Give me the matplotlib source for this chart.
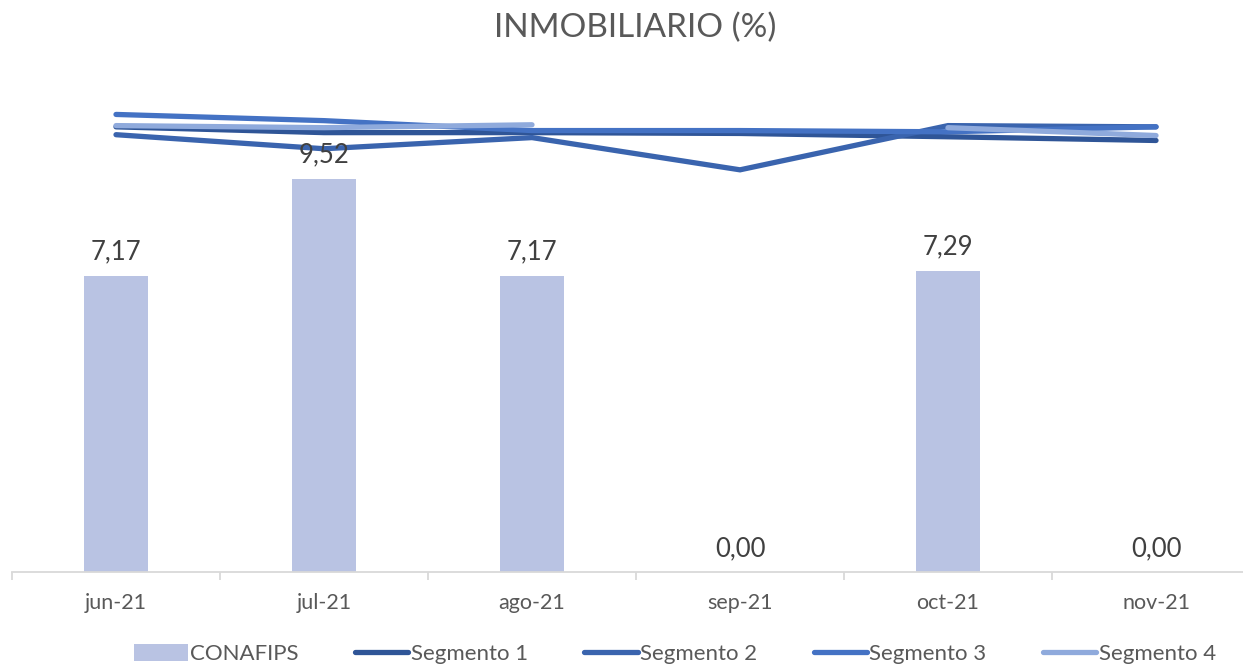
import numpy as np
import matplotlib.pyplot as plt

# Datos
meses = ['jun-21', 'jul-21', 'ago-21', 'sep-21', 'oct-21', 'nov-21']
conafips = [7.17, 9.52, 7.17, 0.00, 7.29, 0.00]
segmento1 = [10.77, 10.63, 10.63, 10.61, 10.53, 10.44]
segmento2 = [10.58, 10.24, 10.51, 9.73, 10.80, 10.77]
segmento3 = [11.07, 10.92, 10.68, 10.68, 10.65, 10.77]
segmento4 = [10.80, 10.75, 10.82, np.nan, 10.75, 10.56]

gris = '#595959'
plt.rcParams['font.family'] = ['Lato', 'DejaVu Sans']

fig = plt.figure(figsize=(12.43, 6.66), dpi=100)
ax = fig.add_axes([12 / 1243, 94 / 666, 1248 / 1243, 496 / 666])

x = np.arange(len(meses))
barras = ax.bar(x, conafips, width=0.31, color='#B9C3E3', label='CONAFIPS', zorder=1)

series = [(segmento1, '#2F5597', 'Segmento 1'),
          (segmento2, '#3A64AE', 'Segmento 2'),
          (segmento3, '#4472C4', 'Segmento 3'),
          (segmento4, '#8FAADC', 'Segmento 4')]
for valores, color, nombre in series:
    ax.plot(x, valores, color=color, lw=3.8, label=nombre,
            solid_capstyle='round', solid_joinstyle='miter', zorder=2)

# Etiquetas de valor sobre las barras
for barra, valor in zip(barras, conafips):
    ax.annotate('{:.2f}'.format(valor).replace('.', ','),
                (barra.get_x() + barra.get_width() / 2, barra.get_height()),
                xytext=(0, 8), textcoords='offset points',
                ha='center', va='bottom', fontsize=18.5, color='#404040')

ax.set_xlim(-0.5, len(meses) - 0.5)
ax.set_ylim(0, 12)
ax.set_yticks([])
for lado in ['top', 'right', 'left']:
    ax.spines[lado].set_visible(False)
ax.spines['bottom'].set_color('#D9D9D9')
ax.spines['bottom'].set_linewidth(1.3)

ax.set_xticks(x)
ax.set_xticklabels(meses, fontsize=15.5, color=gris)
ax.tick_params(axis='x', which='major', length=0, pad=15)
ax.set_xticks(np.arange(-0.5, len(meses), 1), minor=True)
ax.tick_params(axis='x', which='minor', length=6, color='#D9D9D9', width=1.3)

fig.text(0.511, 0.958, 'INMOBILIARIO (%)', ha='center', va='center',
         fontsize=24, color=gris)

# Leyenda con CONAFIPS primero
handles, labels = ax.get_legend_handles_labels()
orden = [labels.index('CONAFIPS')] + [i for i, l in enumerate(labels) if l != 'CONAFIPS']
fig.legend([handles[i] for i in orden], [labels[i] for i in orden],
           loc='center', bbox_to_anchor=(0.543, 0.018), ncol=5, frameon=False,
           fontsize=16, labelcolor=gris, handlelength=2.4, handletextpad=0.1,
           columnspacing=2.55, handleheight=0.8)

fig.savefig('out.png', dpi=100)
